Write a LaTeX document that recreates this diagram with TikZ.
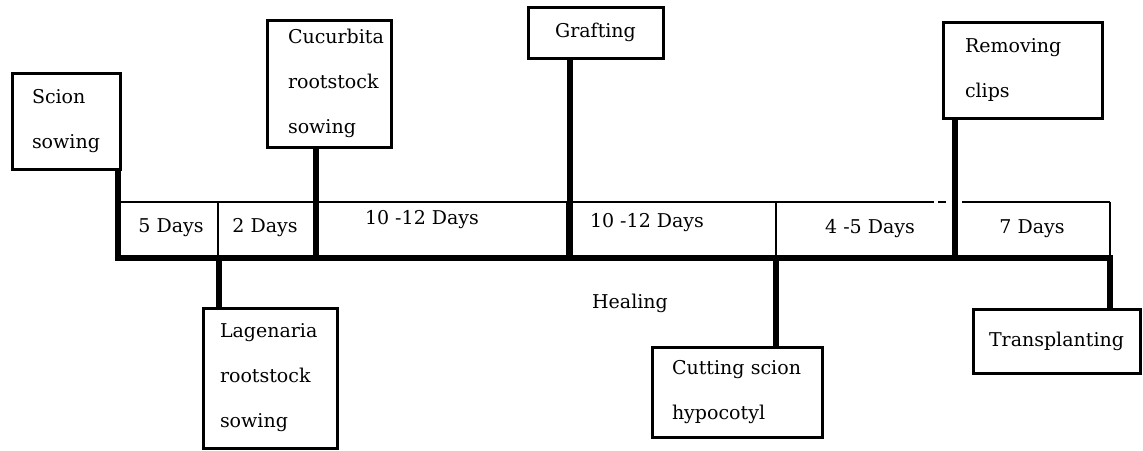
\documentclass[tikz,border=0pt]{standalone}
\usepackage{fontspec}
\setmainfont{DejaVu Serif}
\hyphenpenalty=10000
\exhyphenpenalty=10000
\begin{document}
\begin{tikzpicture}[x=1pt,y=-1pt,
  box/.style={draw, line width=3pt, align=left, inner ysep=0pt, font=\fontsize{19}{45}\selectfont},
  cbox/.style={draw, line width=3pt, align=center, inner sep=0pt, font=\fontsize{19}{24}\selectfont},
  thickln/.style={line width=6pt},
  thinln/.style={line width=1.2pt},
  lbl/.style={inner sep=0pt, font=\fontsize{19}{24}\selectfont}]
\useasboundingbox (0,0) rectangle (1143,450);

% boxes
\node[box, inner xsep=20pt, text width=68pt, minimum height=96pt] (scion) at (66,121) {Scion\\sowing};
\node[box, inner xsep=21pt, text width=82pt, minimum height=127pt] (cucu) at (329,83.5) {Cucurbita\\rootstock\\sowing};
\node[box, inner xsep=17pt, text width=100pt, minimum height=140pt] (lage) at (270,378) {Lagenaria\\rootstock\\sowing};
\node[cbox, minimum width=135pt, minimum height=51pt] (graft) at (595.5,32.5) {Grafting};
\node[box, inner xsep=20pt, text width=130pt, minimum height=90pt] (cut) at (737,392) {Cutting~scion\\hypocotyl};
\node[box, inner xsep=22pt, text width=115pt, minimum height=96pt] (remove) at (1022.5,70) {Removing\\clips};
\node[cbox, minimum width=167pt, minimum height=64pt] (trans) at (1056.5,341) {Transplanting};

% points on the time line
\coordinate (t1) at (118,258);
\coordinate (t2) at (219,258);
\coordinate (t3) at (316,258);
\coordinate (t4) at (570,258);
\coordinate (t5) at (776,258);
\coordinate (t6) at (955,258);
\coordinate (t7) at (1110,258);

% thin frame of the periods
\coordinate (a0) at (118,202);
\coordinate (a1) at (934,202);
\coordinate (a2) at (938,202);
\coordinate (a3) at (946,202);
\coordinate (a4) at (962,202);
\coordinate (a5) at (1110,202);
\draw[thinln] (a0) -- (a1);
\draw[thinln] (a2) -- (a3);
\draw[thinln] (a4) -- (a5);
\coordinate (v1) at (218,202);
\coordinate (v2) at (567,202);
\coordinate (v3) at (776,202);
\draw[thinln] (v1) -- (v1 |- t1);
\draw[thinln] (v2) -- (v2 |- t1);
\draw[thinln] (v3) -- (v3 |- t1);
\draw[thinln] (a5) -- (t7);

% thick time line and connectors
\draw[thickln, line join=miter] (t1 |- scion.south) -- (t1) -- (t7) -- (t7 |- trans.north);
\draw[thickln] (t2) -- (t2 |- lage.north);
\draw[thickln] (t3) -- (t3 |- cucu.south);
\draw[thickln] (t4) -- (t4 |- graft.south);
\draw[thickln] (t5) -- (t5 |- cut.north);
\draw[thickln] (t6) -- (t6 |- remove.south);

% period labels
\node[lbl] (d1) at (171,228) {5 Days};
\node[lbl] (d2) at (265,228) {2 Days};
\node[lbl] (d3) at (422,220) {10 -12 Days};
\node[lbl] (d4) at (647,223) {10 -12 Days};
\node[lbl] (d5) at (870,229) {4 -5 Days};
\node[lbl] (d6) at (1032,229) {7 Days};
\node[lbl] (heal) at (630,303) {Healing};
\end{tikzpicture}
\end{document}
